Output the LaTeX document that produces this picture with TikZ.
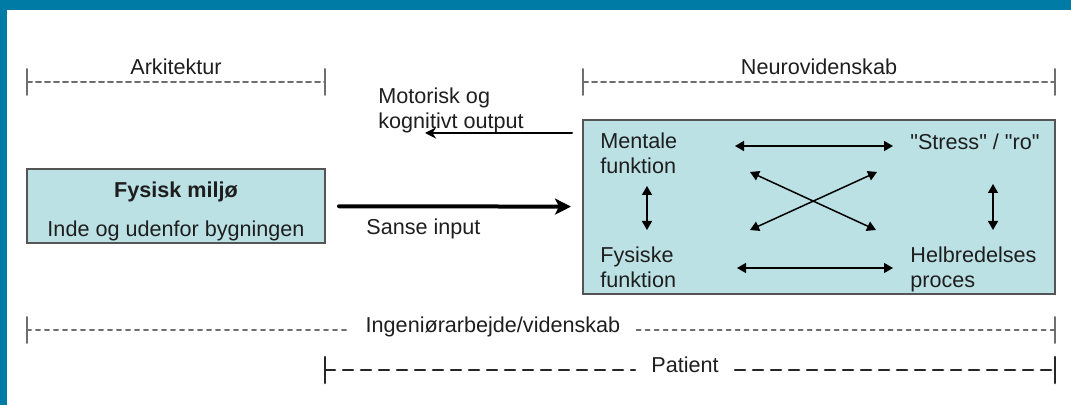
\documentclass[tikz,border=0pt]{standalone}
\usepackage{fontspec}
\setmainfont{Liberation Sans}[Ligatures=TeXOff]
\usetikzlibrary{calc,arrows.meta}
\definecolor{rammeblaa}{RGB}{0,123,165}
\definecolor{kasse}{RGB}{187,225,229}
\definecolor{kant}{RGB}{85,85,85}
\definecolor{spangraa}{RGB}{110,110,110}
\definecolor{tekst}{RGB}{30,30,30}
\newcommand*\tekstfont{\fontsize{10.8}{12.8}\selectfont}
\tikzset{
    boks/.style={draw=kant,fill=kasse,line width=1pt,inner sep=0pt},
    spanline/.style={spangraa,line width=1pt,dash pattern=on 2.5pt off 2pt},
    spantick/.style={spangraa,line width=1pt},
    spangap/.style={anchor=base,inner xsep=8pt,inner ysep=0pt},
    pil/.style={line width=1pt,-{Stealth[length=5.5pt,width=5.5pt]}},
    tykpil/.style={line width=2pt,-{Stealth[length=8pt,width=8pt,inset=2pt]}},
    dobbeltpil/.style={line width=.75pt,{Triangle[length=4.5pt,width=5pt]}-{Triangle[length=4.5pt,width=5pt]}},
}
\newcommand*\drawspan[6][]{%
    % #2/#3: left/right x
    % #4: y
    % #5/#6: name/label
    \coordinate (#5-l) at (#2,#4);
    \coordinate (#5-r) at (#3,#4);
    \node[anchor=base] (#5) at ($(#5-l)!0.5!(#5-r)+(0,-7)$) {#6};
    \draw[spanline,#1] (#5-l) -- (#5-r);
    \draw[spantick,#1,solid] (#2,#4-13) -- (#2,#4+13) (#3,#4-13) -- (#3,#4+13);
}
\newcommand*\drawgapspan[7][]{%
    % #2/#3: left/right x
    % #4: y, #5: label x
    % #6/#7: name/label
    \coordinate (#6-l) at (#2,#4);
    \coordinate (#6-r) at (#3,#4);
    \node[spangap] (#6) at (#5,#4+3) {#7};
    \draw[spanline,#1] (#6-l) -- (#6.west |- #6-l) (#6.east |- #6-r) -- (#6-r);
    \draw[spantick,#1,solid] (#2,#4-13) -- (#2,#4+13) (#3,#4-13) -- (#3,#4+13);
}
\begin{document}
\begin{tikzpicture}[x=.5pt,y=-.5pt,line cap=round,text=tekst,font=\tekstfont]
    \useasboundingbox (0,0) rectangle (1071,405);
    \fill[rammeblaa] (0,0) rectangle (1071,10);
    \fill[rammeblaa] (0,0) rectangle (7,405);
    % spans
    \drawspan{27}{325}{82}{arkitektur}{Arkitektur}
    \drawspan{583}{1055}{82}{neurovid}{Neurovidenskab}
    \drawgapspan[dash pattern=on 2pt off 2.5pt]{27}{1055}{330}{493}{ingenioer}{Ingeniørarbejde/videnskab}
    \drawgapspan[black!85,line width=1.3pt,dash pattern=on 5pt off 4pt]{325}{1055}{370}{685}{patient}{Patient}
    % boxes
    \node[boks,minimum width=149pt,minimum height=37pt] (miljoe) at (176,206) {};
    \node[boks,minimum width=236pt,minimum height=87pt] (hjerne) at (819,207) {};
    \node[anchor=base,font=\tekstfont\bfseries] (miljoe-titel) at (176,198) {Fysisk miljø};
    \node[anchor=base] (miljoe-tekst) at (176,237) {Inde og udenfor bygningen};
    \node[anchor=north west,inner sep=0pt,align=left] (mentale) at (600,132) {Mentale\\funktion};
    \node[anchor=base west,inner sep=0pt] (stress) at (910,150) {"Stress" / "ro"};
    \node[anchor=north west,inner sep=0pt,align=left] (fysiske) at (600,246) {Fysiske\\funktion};
    \node[anchor=north west,inner sep=0pt,align=left] (helbred) at (910,246) {Helbredelses\\proces};
    \node[anchor=north west,inner sep=0pt,align=left] (motorisk) at (378,87) {Motorisk og\\kognitivt output};
    \node[anchor=base west,inner sep=0pt] (sanse) at (366,235) {Sanse input};
    % arrows
    \draw[tykpil,shorten <=6.5pt,shorten >=5.5pt] (miljoe) -- (hjerne);
    \coordinate (output-spids) at (425,133);
    \draw[pil,shorten <=5pt] (hjerne.west |- output-spids) -- (output-spids);
    \foreach \navn/\x/\y in {ms-a/735/146,ms-b/893/146,fh-a/737/268,fh-b/893/268,mf-a/647/186,mf-b/647/230,
        sh-a/993/184,sh-b/993/230,mh-a/750/172,mh-b/876/230,sf-a/877/172,sf-b/750/230}
        \coordinate (\navn) at (\x,\y);
    \foreach \a in {ms,fh,mf,sh,mh,sf}
        \draw[dobbeltpil] (\a-a) -- (\a-b);
\end{tikzpicture}
\end{document}
